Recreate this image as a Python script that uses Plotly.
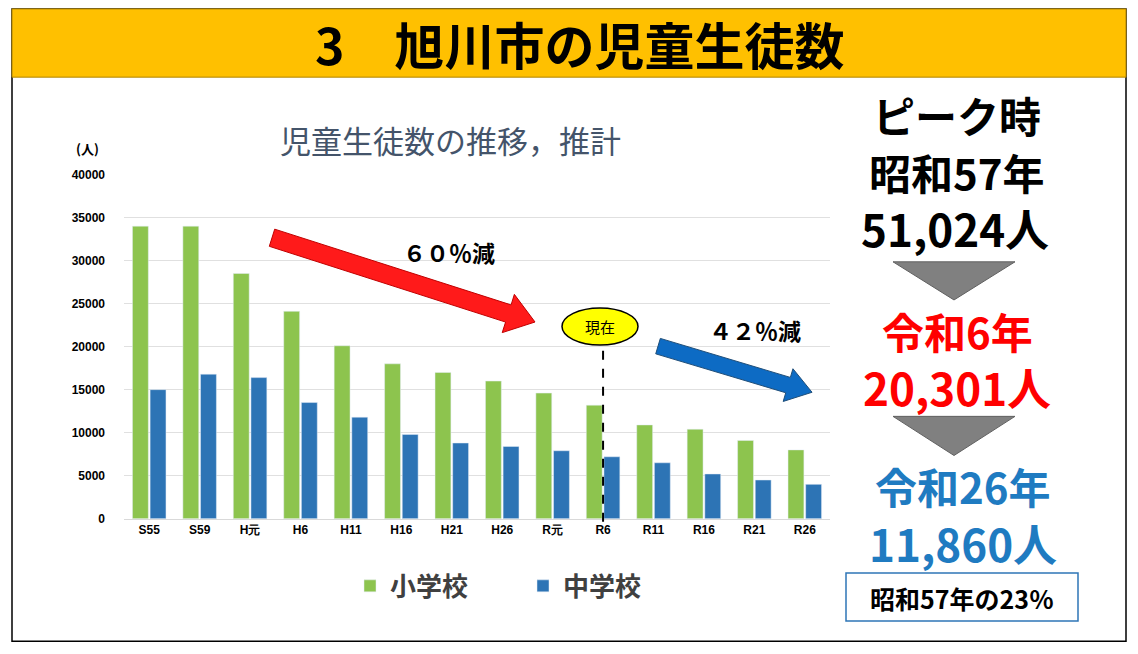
import math
import plotly.graph_objects as go

categories = ["S55", "S59", "H元", "H6", "H11", "H16", "H21", "H26", "R元", "R6", "R11", "R16", "R21", "R26"]
elementary = [34000, 34000, 28500, 24100, 20100, 18000, 17000, 16000, 14600, 13200, 10900, 10400, 9100, 8000]
junior_high = [15000, 16800, 16400, 13500, 11800, 9800, 8800, 8400, 7900, 7200, 6500, 5200, 4500, 4000]

OFF = 8
W, H = 1138 - 2 * OFF, 654 - 2 * OFF
def X(px): return (px - OFF) / W
def Y(py):
    # correction for the vertical placement seen in the screenshot
    p = 10 + (py - 18) / 0.9746
    return 1 - (p - OFF) / H

FONT = "Noto Sans CJK JP"

fig = go.Figure()
fig.add_trace(go.Bar(name="<b>小学校</b>", x=categories, y=elementary, marker_color="#8DC44E"))
fig.add_trace(go.Bar(name="<b>中学校</b>", x=categories, y=junior_high, marker_color="#2D74B5"))

def arrow(x0, y0, x1, y1, w, hw, hl):
    # thick arrow polygon, pixel space -> paper coords
    dx, dy = x1 - x0, y1 - y0
    L = math.hypot(dx, dy)
    ux, uy = dx / L, dy / L
    nx, ny = -uy, ux
    bx, by = x1 - ux * hl, y1 - uy * hl
    pts = [(x0 + nx * w, y0 + ny * w), (bx + nx * w, by + ny * w), (bx + nx * hw, by + ny * hw),
           (x1, y1), (bx - nx * hw, by - ny * hw), (bx - nx * w, by - ny * w), (x0 - nx * w, y0 - ny * w)]
    return "M " + " L ".join(f"{X(a):.4f},{Y(b):.4f}" for a, b in pts) + " Z"

def tri(x0, x1, ytop, ybot):
    xm = (x0 + x1) / 2
    return f"M {X(x0)},{Y(ytop)} L {X(x1)},{Y(ytop)} L {X(xm)},{Y(ybot)} Z"

shapes = [
    dict(type="rect", xref="paper", yref="paper", x0=X(12), x1=X(1126), y0=Y(640), y1=Y(10),
         line=dict(color="black", width=1.5)),
    dict(type="rect", xref="paper", yref="paper", x0=X(12), x1=X(1126), y0=Y(78), y1=Y(10),
         fillcolor="#FFC000", line=dict(color="#B08400", width=1)),
    dict(type="path", xref="paper", yref="paper", path=arrow(272, 238, 535, 322, 9, 20, 28),
         fillcolor="#FF1A1A", line=dict(color="#C00000", width=1)),
    dict(type="path", xref="paper", yref="paper", path=arrow(658, 346, 812, 392, 8, 17, 25),
         fillcolor="#0D6BC4", line=dict(color="#1F4E79", width=1)),
    dict(type="line", xref="x", yref="paper", x0="R6", x1="R6", y0=Y(521), y1=Y(345),
         line=dict(color="black", width=2, dash="dash")),
    dict(type="circle", xref="paper", yref="paper", x0=X(562), x1=X(638), y0=Y(345), y1=Y(308),
         fillcolor="#FFFF00", line=dict(color="black", width=1.5)),
    dict(type="path", xref="paper", yref="paper", path=tri(893, 1015, 262, 300),
         fillcolor="#808080", line=dict(color="#606060", width=1)),
    dict(type="path", xref="paper", yref="paper", path=tri(893, 1015, 416, 455),
         fillcolor="#808080", line=dict(color="#606060", width=1)),
    dict(type="rect", xref="paper", yref="paper", x0=X(846), x1=X(1078), y0=Y(620), y1=Y(572),
         line=dict(color="#2E75B6", width=1.5)),
]

def txt(s, x, y, size, color="black", bold=True):
    return dict(text=f"<b>{s}</b>" if bold else s, x=X(x), y=Y(y), xref="paper", yref="paper",
                showarrow=False, xanchor="center", yanchor="middle",
                font=dict(family=FONT, size=size, color=color))

annotations = [
    txt("3　旭川市の児童生徒数", 580, 44, 50),
    txt("児童生徒数の推移，推計", 450, 140, 31, "#44546A", bold=False),
    txt("(人)", 87, 149, 13),
    txt("６０％減", 449, 252, 23),
    txt("４２％減", 755, 330, 23),
    txt("現在", 600, 326, 15, bold=False),
    txt("ピーク時", 957, 115, 42),
    txt("昭和57年", 957, 172, 42),
    txt("51,024人", 955, 228, 44),
    txt("令和6年", 957, 330, 42, "#FF0000"),
    txt("20,301人", 957, 387, 44, "#FF0000"),
    txt("令和26年", 963, 485, 42, "#1F7BC1"),
    txt("11,860人", 963, 542, 44, "#1F7BC1"),
    txt("昭和57年の23％", 962, 597, 25),
]

fig.update_layout(
    width=W, height=H, margin=dict(l=0, r=0, t=0, b=0),
    paper_bgcolor="white", plot_bgcolor="white",
    barmode="group", bargap=0.3, bargroupgap=0.1,
    font=dict(family=FONT),
    xaxis=dict(domain=[X(124), X(830)], tickfont=dict(size=12, color="black", family="Liberation Sans"),
               showline=True, linecolor="#D9D9D9", ticks="", tickprefix="<b>", ticksuffix="</b>"),
    yaxis=dict(domain=[Y(518), Y(175)], range=[0, 40000], dtick=5000, tickformat="d",
               showgrid=True, gridcolor="#E0E0E0",
               tickfont=dict(size=12, color="black", family="Liberation Sans"), tickprefix="<b>", ticksuffix="</b>",
               zeroline=False, ticklabelstandoff=18),
    legend=dict(orientation="h", x=X(350), xanchor="left", y=Y(585), yanchor="middle",
                font=dict(size=26, color="#404040"), entrywidth=128, traceorder="normal"),
    shapes=shapes, annotations=annotations,
)

fig.write_html("out.html")
